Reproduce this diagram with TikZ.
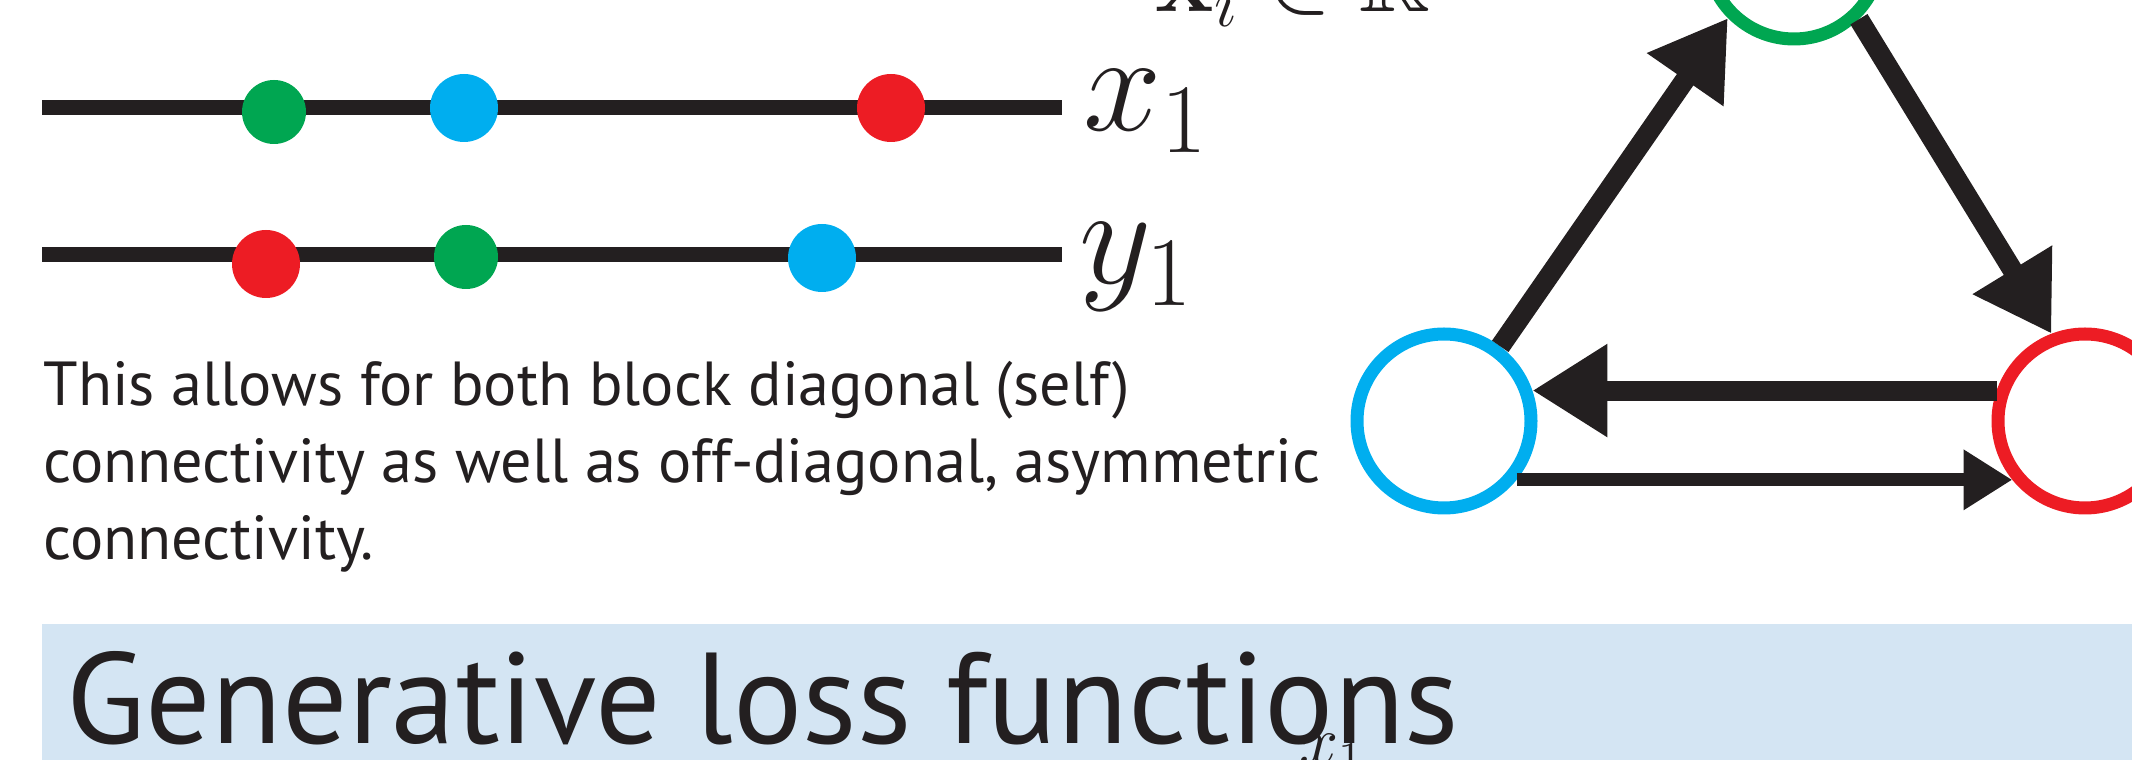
\RequirePackage{fix-cm}
\documentclass[tikz,border=0pt]{standalone}
\usepackage{amsmath,amssymb}
\DeclareFontFamily{U}{msb}{}
\DeclareFontShape{U}{msb}{m}{n}{<-> msbm10}{}
\usepackage[no-math]{fontspec}
\setmainfont{PT Sans}
\usepackage{tikz}
\usetikzlibrary{arrows.meta}
\definecolor{figline}{RGB}{35,31,32}
\definecolor{figgreen}{RGB}{0,166,81}
\definecolor{figblue}{RGB}{0,174,239}
\definecolor{figred}{RGB}{237,28,36}
\definecolor{figbar}{RGB}{212,229,243}
\tikzset{
  rule/.style  ={draw=figline, line width=0.15cm, line cap=butt},
  ring/.style  ={circle, draw, line width=0.13cm, minimum size=1.74cm, inner sep=0pt},
  wide/.style  ={draw=figline, line width=0.20cm, -{Triangle[length=0pt 3.75,width=0pt 4.4]}},
  narrow/.style={draw=figline, line width=0.13cm, -{Triangle[length=0pt 3.75,width=0pt 4.4]}},
  lab/.style   ={font=\fontsize{40}{44}\selectfont, text=figline, inner sep=0pt, anchor=base west},
  labs/.style  ={font=\fontsize{28}{31}\selectfont, text=figline, inner sep=0pt, anchor=base west},
  para/.style  ={font=\fontsize{17.7}{22}\selectfont, text=figline, inner sep=0pt, align=left, anchor=base west},
  head/.style  ={font=\fontsize{36.8}{40}\selectfont, text=figline, inner sep=0pt, anchor=base west},
}
\begin{document}
\begin{tikzpicture}
  \useasboundingbox (0,0) rectangle (21.32,-7.60);
  % feature space, cut at the top
  \node[labs] (feat) at (11.55,-0.12) {$\mathbf{x}_i \in \mathbb{R}$};
  % first ordering
  \draw[rule] (0.42,-1.08) -- (10.62,-1.08);
  \fill[figgreen] (2.74,-1.12) circle (0.32);
  \fill[figblue] (4.64,-1.08) circle (0.34);
  \fill[figred] (8.91,-1.08) circle (0.34);
  \node[lab] (xone) at (10.83,-1.31) {$x_1$};
  % second ordering
  \draw[rule] (0.42,-2.55) -- (10.62,-2.55);
  \fill[figred] (2.66,-2.64) circle (0.34);
  \fill[figgreen] (4.66,-2.57) circle (0.32);
  \fill[figblue] (8.22,-2.58) circle (0.34);
  \node[lab] (yone) at (10.79,-2.84) {$y_1$};
  \node[para] (note) at (0.43,-5.60) {This allows for both block diagonal (self)\\connectivity as well as off-diagonal, asymmetric\\connectivity.};
  % graph
  \node[ring, draw=figblue] (nb) at (14.44,-4.21) {};
  \node[ring, draw=figgreen] (ng) at (17.94,0.48) {};
  \node[ring, draw=figred] (nr) at (20.85,-4.21) {};
  \draw[wide] (nb.53) -- (ng.225);
  \draw[wide] (ng.-46) -- (nr.111);
  \draw[wide] (nr.161) -- (nb.19);
  \draw[narrow] (nb.-39) -- (nr.-141);
  % heading
  \fill[figbar] (0.42,-6.24) rectangle (21.32,-7.60);
  \node[head] (title) at (0.66,-7.44) {Generative loss functions};
  \node[font=\fontsize{20}{22}\selectfont, text=figline, inner sep=0pt, anchor=base west] (xcut) at (12.99,-7.65) {$x_1$};
\end{tikzpicture}
\end{document}
